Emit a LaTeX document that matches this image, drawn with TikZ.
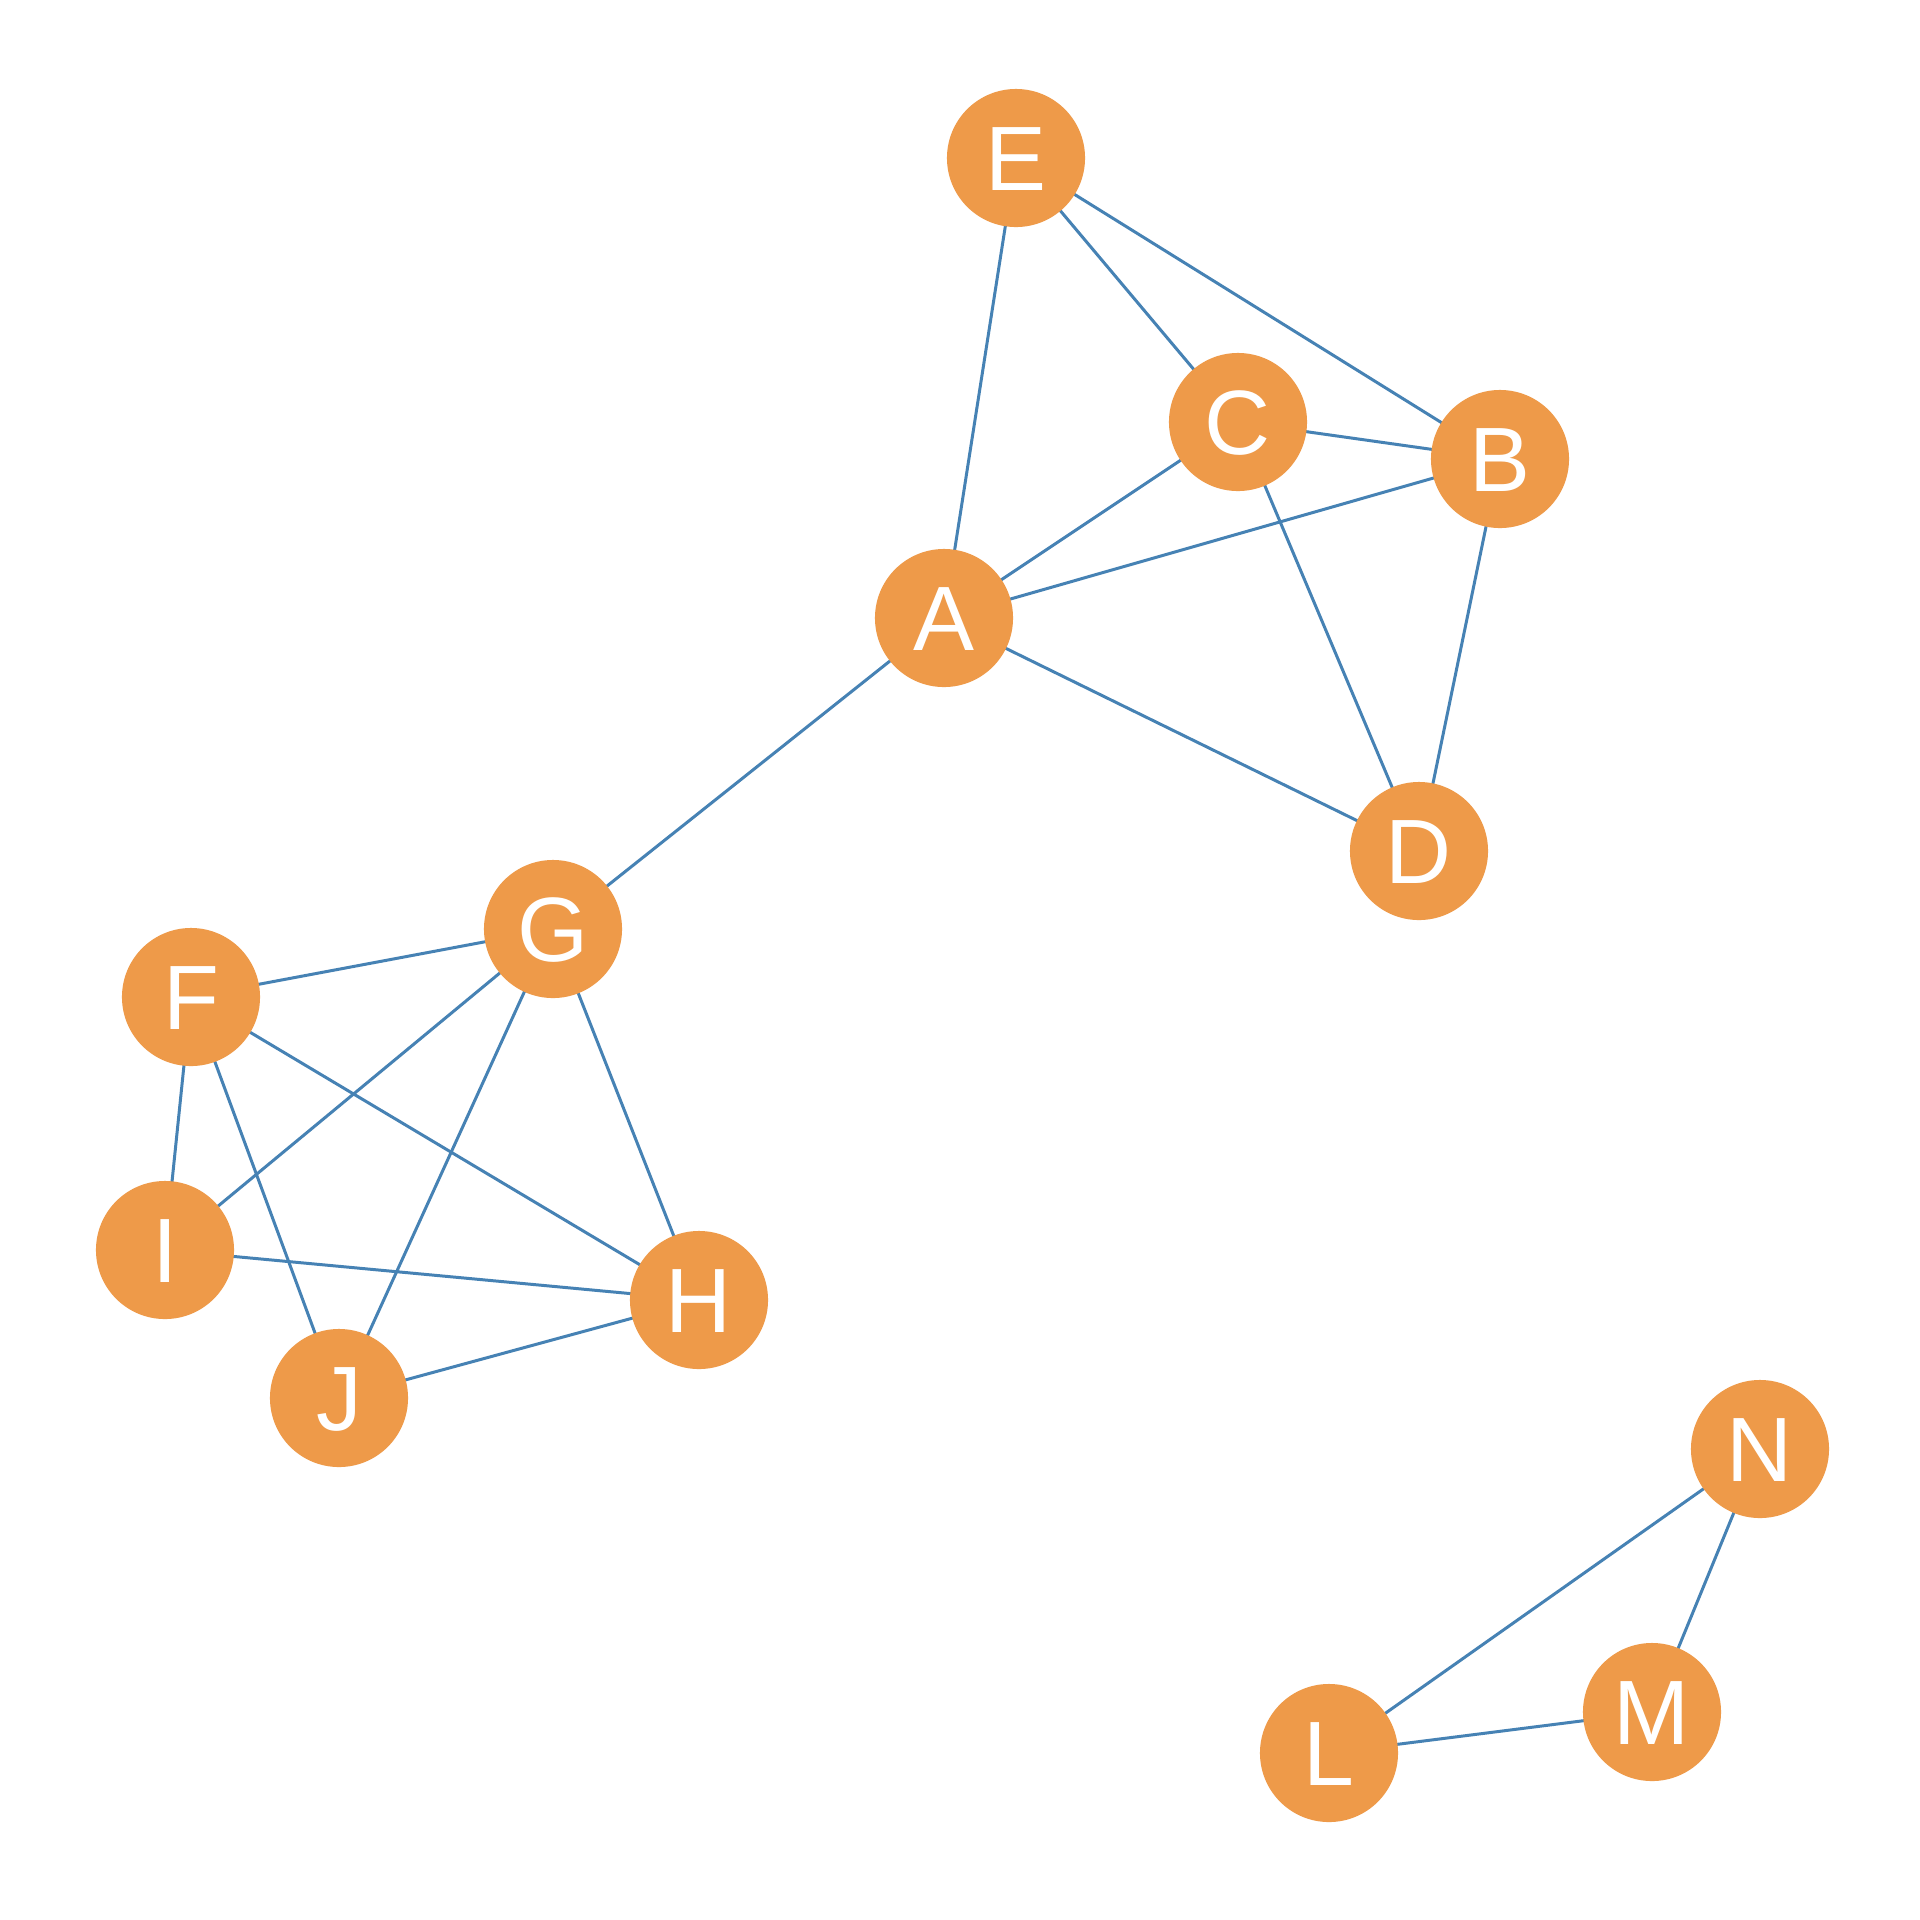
\documentclass[tikz,border=0pt]{standalone}
\usepackage{fontspec}
\setmainfont{Liberation Sans}
\definecolor{nodeorange}{HTML}{EE9A49}
\definecolor{edgeblue}{HTML}{4682B4}
\begin{document}
\begin{tikzpicture}[x=0.01cm,y=-0.01cm,
  vert/.style={circle,fill=nodeorange,draw=none,minimum size=1.38cm,inner sep=0pt,
    text=white,font=\fontsize{26}{26}\selectfont,text height=18.6pt,text depth=0pt},
  edge/.style={draw=edgeblue,line width=0.85pt}]
\useasboundingbox (0,0) rectangle (1920,1920);
\fill[white] (0,0) rectangle (1920,1920);
\coordinate (pE) at (1016,158);
\coordinate (pC) at (1238,422);
\coordinate (pB) at (1500,459);
\coordinate (pA) at (944,618);
\coordinate (pD) at (1419,851);
\coordinate (pG) at (553,929);
\coordinate (pF) at (191,997);
\coordinate (pI) at (165,1250);
\coordinate (pH) at (699,1300);
\coordinate (pJ) at (339,1398);
\coordinate (pN) at (1760,1449);
\coordinate (pM) at (1652,1712);
\coordinate (pL) at (1329,1753);
\foreach \a/\b in {E/C,E/B,E/A,C/B,C/A,C/D,B/A,B/D,A/D,A/G,G/F,G/I,G/J,G/H,F/I,F/J,F/H,I/H,J/H,N/L,N/M,L/M}
  \draw[edge] (p\a) -- (p\b);
\foreach \n in {E,C,B,A,D,G,F,I,H,J,N,M,L}
  \node[vert] (\n) at (p\n) {\n};
\end{tikzpicture}
\end{document}
